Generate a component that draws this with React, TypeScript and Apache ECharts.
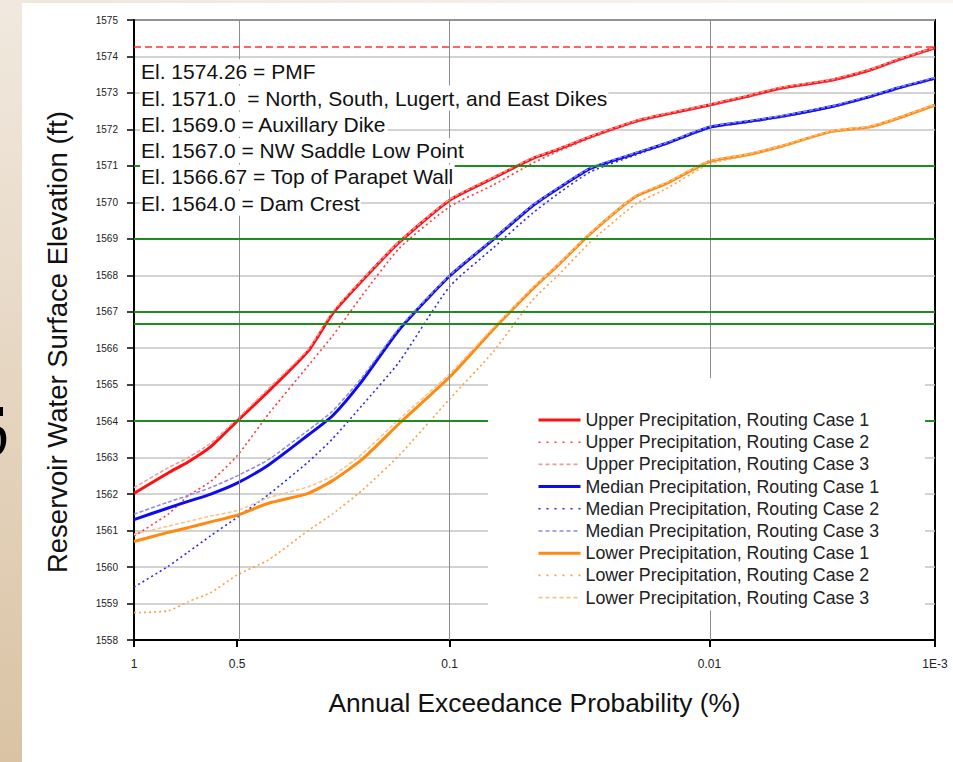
import React, { useEffect, useRef } from "react";
import * as echarts from "echarts";

// Annual exceedance probabilities (%) at which the curves are read
const probabilities = [1, 0.8, 0.7, 0.6, 0.5, 0.4, 0.3, 0.25, 0.2, 0.15, 0.1, 0.07, 0.05, 0.04, 0.03, 0.02, 0.015, 0.01, 0.007, 0.005, 0.003, 0.002, 0.0015, 0.001];

const upperCase1 = [1562.02, 1562.58, 1562.88, 1563.3, 1564.0, 1564.82, 1565.92, 1566.95, 1567.85, 1568.9, 1570.06, 1570.66, 1571.2, 1571.45, 1571.8, 1572.22, 1572.42, 1572.67, 1572.9, 1573.13, 1573.35, 1573.63, 1573.9, 1574.24];
const upperCase2 = [1560.85, 1561.45, 1561.95, 1562.35, 1563.05, 1564.2, 1565.52, 1566.34, 1567.44, 1568.73, 1569.88, 1570.47, 1571.07, 1571.4, 1571.77, 1572.2, 1572.4, 1572.65, 1572.88, 1573.11, 1573.33, 1573.61, 1573.88, 1574.22];
const upperCase3 = [1562.18, 1562.72, 1563.0, 1563.4, 1564.06, 1564.9, 1565.97, 1567.0, 1567.88, 1568.92, 1570.08, 1570.68, 1571.22, 1571.47, 1571.82, 1572.24, 1572.44, 1572.69, 1572.92, 1573.15, 1573.37, 1573.65, 1573.92, 1574.25];
const medianCase1 = [1561.3, 1561.62, 1561.8, 1562.0, 1562.3, 1562.8, 1563.62, 1564.15, 1565.1, 1566.5, 1567.98, 1568.97, 1569.9, 1570.38, 1570.93, 1571.34, 1571.62, 1572.06, 1572.21, 1572.35, 1572.62, 1572.9, 1573.13, 1573.4];
const medianCase2 = [1559.45, 1560.02, 1560.41, 1560.86, 1561.36, 1561.99, 1562.88, 1563.52, 1564.43, 1565.62, 1567.69, 1568.74, 1569.7, 1570.24, 1570.84, 1571.3, 1571.6, 1572.04, 1572.19, 1572.33, 1572.6, 1572.88, 1573.11, 1573.38];
const medianCase3 = [1561.45, 1561.78, 1561.96, 1562.18, 1562.5, 1562.95, 1563.75, 1564.28, 1565.2, 1566.55, 1568.0, 1568.99, 1569.92, 1570.4, 1570.95, 1571.36, 1571.64, 1572.08, 1572.23, 1572.37, 1572.64, 1572.92, 1573.15, 1573.42];
const lowerCase1 = [1560.7, 1560.95, 1561.08, 1561.24, 1561.42, 1561.75, 1562.02, 1562.37, 1562.95, 1563.93, 1565.21, 1566.5, 1567.62, 1568.28, 1569.15, 1570.16, 1570.52, 1571.12, 1571.3, 1571.53, 1571.94, 1572.07, 1572.3, 1572.67];
const lowerCase2 = [1558.75, 1558.8, 1559.05, 1559.3, 1559.78, 1560.2, 1561.0, 1561.46, 1562.1, 1563.06, 1564.61, 1565.89, 1567.32, 1568.0, 1568.92, 1569.95, 1570.38, 1571.05, 1571.28, 1571.51, 1571.92, 1572.05, 1572.28, 1572.65];
const lowerCase3 = [1560.9, 1561.12, 1561.25, 1561.4, 1561.55, 1561.9, 1562.2, 1562.5, 1563.1, 1564.05, 1565.3, 1566.55, 1567.65, 1568.3, 1569.17, 1570.18, 1570.54, 1571.14, 1571.32, 1571.55, 1571.96, 1572.09, 1572.32, 1572.69];

const seriesNames = [
  "Upper Precipitation, Routing Case 1",
  "Upper Precipitation, Routing Case 2",
  "Upper Precipitation, Routing Case 3",
  "Median Precipitation, Routing Case 1",
  "Median Precipitation, Routing Case 2",
  "Median Precipitation, Routing Case 3",
  "Lower Precipitation, Routing Case 1",
  "Lower Precipitation, Routing Case 2",
  "Lower Precipitation, Routing Case 3",
];
const seriesValues = [upperCase1, upperCase2, upperCase3, medianCase1, medianCase2, medianCase3, lowerCase1, lowerCase2, lowerCase3];

// x tick positions (%) and labels
const xTickValues = [1, 0.5, 0.1, 0.01, 0.001];
const xTickLabels = ["1", "0.5", "0.1", "0.01", "1E-3"];
const xGridValues = [0.5, 0.1, 0.01];

// reference elevations
const pmfElevation = 1574.26;
const featureElevations = [1571.0, 1569.0, 1567.0, 1566.67, 1564.0];
const annotationLines = [
  "El. 1574.26 = PMF",
  "El. 1571.0  = North, South, Lugert, and East Dikes",
  "El. 1569.0 = Auxillary Dike",
  "El. 1567.0 = NW Saddle Low Point",
  "El. 1566.67 = Top of Parapet Wall",
  "El. 1564.0 = Dam Crest",
];

// inverse standard normal CDF (Acklam)
function normInv(p: number): number {
  const a = [-3.969683028665376e1, 2.209460984245205e2, -2.759285104469687e2, 1.38357751867269e2, -3.066479806614716e1, 2.506628277459239];
  const b = [-5.447609879822406e1, 1.615858368580409e2, -1.556989798598866e2, 6.680131188771972e1, -1.328068155288572e1];
  const c = [-7.784894002430293e-3, -3.223964580411365e-1, -2.400758277161838, -2.549732539343734, 4.374664141464968, 2.938163982698783];
  const d = [7.784695709041462e-3, 3.224671290700398e-1, 2.445134137142996, 3.754408661907416];
  const pLow = 0.02425;
  if (p < pLow) {
    const q = Math.sqrt(-2 * Math.log(p));
    return (((((c[0] * q + c[1]) * q + c[2]) * q + c[3]) * q + c[4]) * q + c[5]) / ((((d[0] * q + d[1]) * q + d[2]) * q + d[3]) * q + 1);
  }
  if (p > 1 - pLow) {
    const q = Math.sqrt(-2 * Math.log(1 - p));
    return -(((((c[0] * q + c[1]) * q + c[2]) * q + c[3]) * q + c[4]) * q + c[5]) / ((((d[0] * q + d[1]) * q + d[2]) * q + d[3]) * q + 1);
  }
  const q = p - 0.5;
  const r = q * q;
  return ((((((a[0] * r + a[1]) * r + a[2]) * r + a[3]) * r + a[4]) * r + a[5]) * q) / (((((b[0] * r + b[1]) * r + b[2]) * r + b[3]) * r + b[4]) * r + 1);
}
// probability-scale transform: percent exceedance -> standard normal deviate
const zOf = (pct: number) => -normInv(pct / 100);

const FONT = "'Liberation Sans', Arial, sans-serif";
const colors = ["#ff1010", "#ff3a3a", "#f09a9a", "#0c0cf0", "#2a2aee", "#8a8ae0", "#ff8a12", "#ffa040", "#f8c48a"];
const widths = [3, 1.6, 1.5, 3, 1.6, 1.5, 3, 1.6, 1.5];
const dashes: any[] = ["solid", [2, 3], [4, 2], "solid", [2, 3], [4, 2], "solid", [2, 3], [4, 2]];
const legendDashes: any[] = ["solid", [2, 6], [4, 3], "solid", [2, 6], [4, 3], "solid", [2, 6], [4, 3]];

export default function App() {
  const ref = useRef<HTMLDivElement>(null);
  useEffect(() => {
    if (!ref.current) return;
    echarts.graphic.registerShape(
      "slideGlyph",
      echarts.graphic.extendPath(
        "M0 0 L3 0 L3 9 L0 9 Z M0 20 C6 22 7 30 6 36 C5 42 2 46 0 47 L0 40 C1 37 1 30 0 27 Z",
        {}
      )
    );
    const chart = echarts.init(ref.current, null, { renderer: "svg" });
    const xTickZ = xTickValues.map(zOf);

    const curveSeries = seriesNames.map((name, i) => ({
      name,
      type: "line",
      data: probabilities.map((p, j) => [zOf(p), seriesValues[i][j]]),
      showSymbol: false,
      symbol: "none",
      smooth: 0.2,
      z: 3,
      lineStyle: { color: colors[i], width: widths[i], type: dashes[i] },
      itemStyle: { color: colors[i] },
      emphasis: { disabled: true },
    }));

    const option: any = {
      animation: false,
      grid: { left: 134, right: 18, top: 20, bottom: 122, show: true, borderColor: "#000", borderWidth: 2, backgroundColor: "transparent" },
      xAxis: {
        type: "value",
        min: zOf(1),
        max: zOf(0.001),
        name: "Annual Exceedance Probability (%)",
        nameLocation: "middle",
        nameGap: 50,
        nameTextStyle: { fontSize: 26.3, fontFamily: FONT, color: "#111" },
        axisLine: { show: true, lineStyle: { color: "#000", width: 2 } },
        axisTick: { show: true, inside: false, length: 7, customValues: xTickZ, lineStyle: { color: "#000", width: 2 } },
        axisLabel: {
          customValues: xTickZ,
          margin: 18,
          fontSize: 12,
          fontFamily: FONT,
          color: "#222",
          formatter: (v: number) => {
            const i = xTickZ.findIndex((z) => Math.abs(z - v) < 1e-6);
            return i >= 0 ? xTickLabels[i] : "";
          },
        },
        splitLine: { show: false },
      },
      yAxis: {
        type: "value",
        min: 1558,
        max: 1575,
        interval: 1,
        name: "Reservoir Water Surface Elevation (ft)",
        nameLocation: "middle",
        nameGap: 63,
        nameTextStyle: { fontSize: 27.5, fontFamily: FONT, color: "#111", padding: [0, 24, 0, 0] },
        axisLine: { show: true, lineStyle: { color: "#000", width: 2 } },
        axisTick: { show: true, inside: false, length: 7, lineStyle: { color: "#000", width: 1.5 } },
        axisLabel: { margin: 16, fontSize: 10, fontFamily: FONT, color: "#222", formatter: (v: number) => String(v) },
        splitLine: { show: true, lineStyle: { color: "#c4c4c4", width: 1.5 } },
      },
      legend: {
        show: true,
        orient: "vertical",
        left: 488,
        top: 378,
        padding: [33, 46, 4, 49],
        backgroundColor: "#ffffff",
        itemWidth: 42,
        itemHeight: 12,
        itemGap: 4.2,
        selectedMode: false,
        data: seriesNames.map((name, i) => ({
          name,
          lineStyle: { color: colors[i], width: widths[i] === 3 ? 3 : 1.6, type: legendDashes[i] },
        })),
        itemStyle: { color: "transparent", borderColor: "transparent", borderWidth: 0 },
        textStyle: { fontSize: 17.8, lineHeight: 18, fontFamily: FONT, color: "#222" },
        z: 6,
      },
      graphic: [
        {
          type: "rect",
          z: -10,
          silent: true,
          shape: { x: 0, y: 0, width: 22, height: 762 },
          style: {
            fill: new echarts.graphic.LinearGradient(0, 0, 0, 1, [
              { offset: 0, color: "#f1e9df" },
              { offset: 1, color: "#dac3a4" },
            ]),
          },
        },
        {
          type: "rect",
          z: -10,
          silent: true,
          shape: { x: 22, y: 0, width: 931, height: 3 },
          style: {
            fill: new echarts.graphic.LinearGradient(0, 0, 1, 0, [
              { offset: 0, color: "#efe7dc" },
              { offset: 1, color: "#f8f5f0" },
            ]),
          },
        },
        {
          type: "slideGlyph",
          z: -5,
          silent: true,
          x: 0,
          y: 407,
          style: { fill: "#000" },
        },
        ...annotationLines.map((t, i) => ({
          type: "text",
          z: 7,
          silent: true,
          style: {
            text: t,
            x: 140,
            y: 71.7 + i * 26.3,
            verticalAlign: "middle",
            fontSize: 21,
            lineHeight: 22,
            fontFamily: FONT,
            fill: "#111",
            backgroundColor: "#fff",
            padding: [2, 1, 1, 1],
          },
        })),
      ],
      series: [
        {
          name: "grid-verticals",
          type: "line",
          data: [],
          z: 1,
          silent: true,
          markLine: {
            silent: true,
            symbol: ["none", "none"],
            label: { show: false },
            lineStyle: { color: "#8c8c8c", width: 1, type: "solid" },
            emphasis: { disabled: true },
            data: xGridValues.map((p) => ({ xAxis: zOf(p) })),
          },
        },
        {
          name: "feature-lines",
          type: "line",
          data: [],
          z: 2,
          silent: true,
          markLine: {
            silent: true,
            symbol: ["none", "none"],
            label: { show: false },
            lineStyle: { color: "#1e8c1e", width: 2, type: "solid" },
            emphasis: { disabled: true },
            data: featureElevations.map((e) => ({ yAxis: e })),
          },
        },
        {
          name: "pmf-line",
          type: "line",
          data: [],
          z: 4,
          silent: true,
          markLine: {
            silent: true,
            symbol: ["none", "none"],
            label: { show: false },
            lineStyle: { color: "#ff3030", width: 1.5, type: [7, 4] },
            emphasis: { disabled: true },
            data: [{ yAxis: pmfElevation }],
          },
        },
        ...curveSeries,
      ],
    };
    chart.setOption(option);
    return () => chart.dispose();
  }, []);

  return (
    <div
      ref={ref}
      style={{ position: "absolute", left: 0, top: 0, width: 953, height: 762, background: "#fff" }}
    />
  );
}
